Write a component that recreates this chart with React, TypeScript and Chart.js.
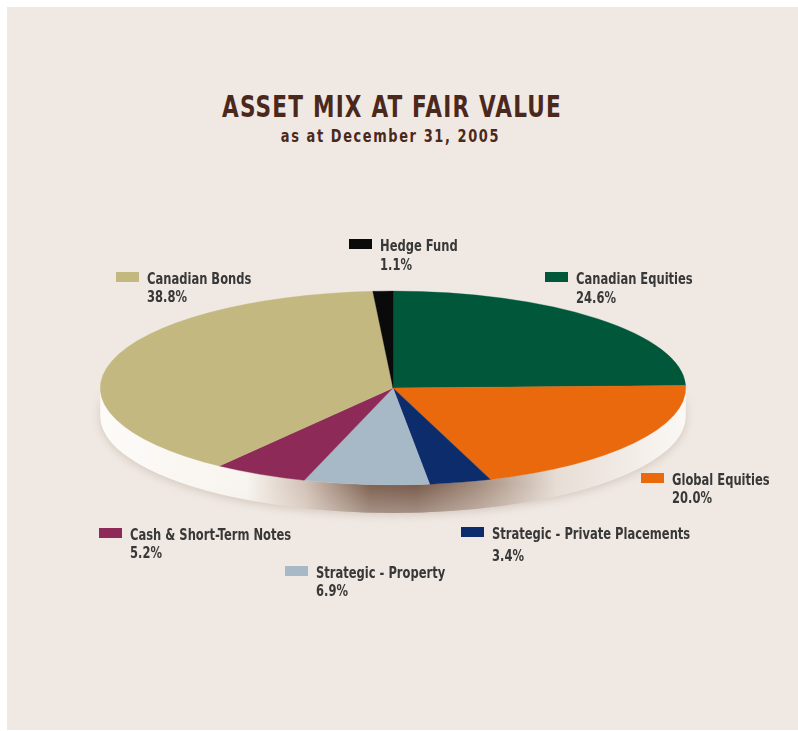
import React, { useEffect, useRef } from "react";
import { Chart, registerables } from "chart.js";

Chart.register(...registerables);

// ---------- data ----------
const categories = [
  "Canadian Equities",
  "Global Equities",
  "Strategic - Private Placements",
  "Strategic - Property",
  "Cash & Short-Term Notes",
  "Canadian Bonds",
  "Hedge Fund",
];
const values = [24.6, 20.0, 3.4, 6.9, 5.2, 38.8, 1.1];
const sliceColors = ["#00573a", "#e9690c", "#0d2c6b", "#a7b9c7", "#8d2a57", "#c3b980", "#0a0a0a"];
const TITLE = "ASSET MIX AT FAIR VALUE";
const SUBTITLE = "as at December 31, 2005";

// ---------- layout / style ----------
const W = 798;
const H = 731;
const TILT = 0.331;
const DEPTH = 28;
const CONDENSE = 0.8;
const FONT = '"Liberation Sans Narrow", "DejaVu Sans Condensed", "Arial Narrow", sans-serif';
const LABEL_LAYOUT = [
  { x: 545, y: 272, gap: 19 },
  { x: 641, y: 473, gap: 18 },
  { x: 461, y: 527, gap: 22 },
  { x: 285, y: 566, gap: 18 },
  { x: 99, y: 528, gap: 18 },
  { x: 116, y: 272, gap: 18 },
  { x: 349, y: 239, gap: 19 },
];

const pie3d = {
  id: "pie3d",
  beforeDatasetsDraw(chart: any) {
    const arc = chart.getDatasetMeta(0).data[0];
    if (!arc) return;
    const cx = arc.x;
    const cy = arc.y;
    const rx = arc.outerRadius;
    const ry = rx * TILT;
    const ctx = chart.ctx as CanvasRenderingContext2D;

    const sidePath = () => {
      ctx.beginPath();
      ctx.moveTo(cx - rx, cy);
      ctx.lineTo(cx - rx, cy + DEPTH);
      ctx.ellipse(cx, cy + DEPTH, rx, ry, 0, Math.PI, 0, true);
      ctx.lineTo(cx + rx, cy);
      ctx.ellipse(cx, cy, rx, ry, 0, 0, Math.PI, false);
      ctx.closePath();
    };

    ctx.save();
    const g = ctx.createLinearGradient(cx - rx, 0, cx + rx, 0);
    g.addColorStop(0, "#fdfbf8");
    g.addColorStop(0.25, "#f8f4ef");
    g.addColorStop(0.35, "#d3c2b6");
    g.addColorStop(0.46, "#7f6353");
    g.addColorStop(0.54, "#7a5d4e");
    g.addColorStop(0.65, "#a89182");
    g.addColorStop(0.78, "#e7ddd5");
    g.addColorStop(1, "#fbf8f5");
    ctx.shadowColor = "rgba(110,80,60,0.22)";
    ctx.shadowBlur = 10;
    ctx.shadowOffsetY = 2;
    sidePath();
    ctx.fillStyle = g;
    ctx.fill();
    ctx.shadowColor = "transparent";
    const v = ctx.createLinearGradient(0, cy + ry, 0, cy + ry + DEPTH);
    v.addColorStop(0, "rgba(240,233,227,0)");
    v.addColorStop(1, "rgba(240,233,227,0.35)");
    sidePath();
    ctx.fillStyle = v;
    ctx.fill();
    ctx.restore();

    ctx.save();
    ctx.translate(cx, cy);
    ctx.scale(1, TILT);
    ctx.translate(-cx, -cy);
  },
  afterDatasetsDraw(chart: any) {
    chart.ctx.restore();
  },
};

const labelsPlugin = {
  id: "sliceLabels",
  afterDraw(chart: any) {
    const ctx = chart.ctx as CanvasRenderingContext2D;
    categories.forEach((name, i) => {
      const p = LABEL_LAYOUT[i];
      ctx.save();
      ctx.fillStyle = sliceColors[i];
      ctx.fillRect(p.x, p.y, 23, 10);
      ctx.font = `bold 16px ${FONT}`;
      ctx.textBaseline = "alphabetic";
      ctx.textAlign = "left";
      ctx.fillStyle = "#383838";
      ctx.translate(p.x + 31, p.y + 12);
      ctx.scale(CONDENSE, 1);
      ctx.fillText(name, 0, 0);
      ctx.fillText(values[i].toFixed(1) + "%", 0, p.gap);
      ctx.restore();
    });
  },
};

export default function App() {
  const ref = useRef<HTMLCanvasElement | null>(null);

  useEffect(() => {
    if (!ref.current) return;
    const chart = new Chart(ref.current, {
      type: "pie",
      data: {
        labels: categories,
        datasets: [
          {
            data: values,
            backgroundColor: sliceColors,
            borderColor: sliceColors,
            borderWidth: 0.5,
            hoverOffset: 0,
            offset: 0,
          },
        ],
      },
      options: {
        responsive: false,
        animation: false,
        devicePixelRatio: 1,
        layout: { padding: { left: 100, right: 112, top: 95, bottom: 50 } },
        plugins: {
          legend: { display: false },
          tooltip: { enabled: false },
          title: { display: false },
        },
        events: [],
      },
      plugins: [pie3d, labelsPlugin],
    });
    return () => chart.destroy();
  }, []);

  return (
    <div style={{ position: "absolute", left: 0, top: 0, width: W, height: H, background: "#ffffff", overflow: "hidden" }}>
      <div style={{ position: "absolute", left: 7, top: 7, width: W - 7, height: H - 8, background: "#f0e9e3" }} />
      <div
        style={{
          position: "absolute",
          left: 0,
          top: 92,
          width: 784,
          textAlign: "center",
          fontFamily: FONT,
          fontWeight: "bold",
          fontSize: 30,
          lineHeight: "30px",
          letterSpacing: "1.5px",
          color: "#4b281c",
          transform: `scaleX(${CONDENSE})`,
          transformOrigin: "392px 0",
        }}
      >
        {TITLE}
      </div>
      <div
        style={{
          position: "absolute",
          left: 0,
          top: 127,
          width: 781,
          textAlign: "center",
          fontFamily: FONT,
          fontWeight: "bold",
          fontSize: 18,
          lineHeight: "18px",
          letterSpacing: "2px",
          color: "#4b281c",
          transform: `scaleX(${CONDENSE})`,
          transformOrigin: "390px 0",
        }}
      >
        {SUBTITLE}
      </div>
      <canvas ref={ref} width={W} height={H} style={{ position: "absolute", left: 0, top: 0, width: W, height: H }} />
    </div>
  );
}
